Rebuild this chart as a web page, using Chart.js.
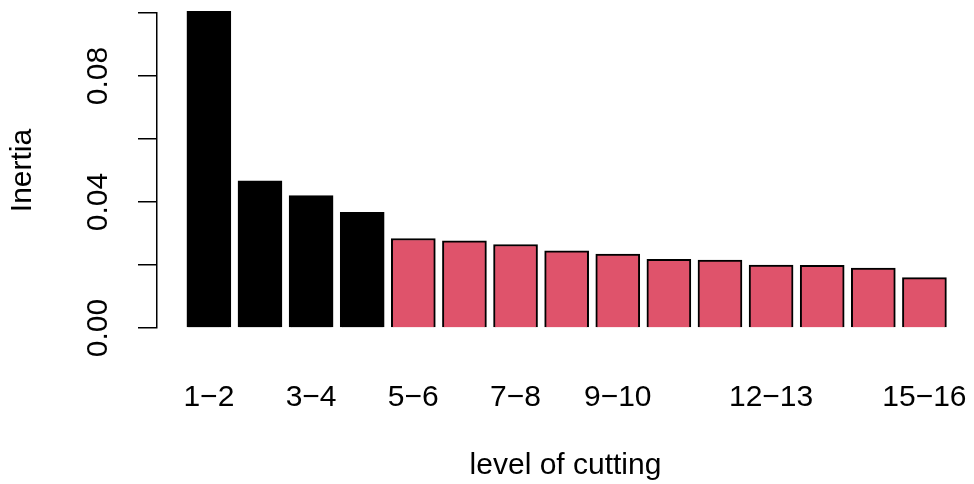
<!DOCTYPE html>
<html>
<head>
<meta charset="utf-8">
<script src="https://cdn.jsdelivr.net/npm/chart.js@4.4.1/dist/chart.umd.min.js"></script>
<style>
  html, body { margin: 0; padding: 0; background: #fff; }
  canvas { display: block; }
</style>
</head>
<body>
<canvas id="ct-chart" width="974" height="484"></canvas>
<script>
var levelLabels = ["1−2", "2−3", "3−4", "4−5", "5−6", "6−7", "7−8", "8−9",
    "9−10", "10−11", "11−12", "12−13", "13−14", "14−15", "15−16"],
  inertiaValues = [0.1005, 0.0467, 0.0420, 0.0367, 0.0284, 0.0277, 0.0265,
    0.0245, 0.0235, 0.0218, 0.0216, 0.0200, 0.0199, 0.0190, 0.0160],
  keptLevels = 4,
  shownTicks = [1, 3, 5, 7, 9, 12, 15],
  yTicks = [0, 0.02, 0.04, 0.06, 0.08, 0.1],
  yTickLabels = ["0.00", "", "0.04", "", "0.08", ""];

var textFont = { family: '"Liberation Sans", Arial, sans-serif', size: 30 };

const ctChart = new Chart(document.getElementById("ct-chart"), {
  type: "bar",
  data: {
    datasets: [
      {
        data: inertiaValues.map((v, i) => ({ x: i + 1, y: v })),
        backgroundColor: inertiaValues.map((_v, i) =>
          i < keptLevels ? "#000000" : "#DF536B"
        ),
        borderColor: "#000000",
        borderWidth: 2,
        barThickness: 44,
        clip: false,
      },
    ],
  },
  options: {
    responsive: false,
    animation: false,
    devicePixelRatio: 1,
    layout: { padding: { top: 13, right: 0, bottom: 0, left: 0 } },
    plugins: {
      legend: { display: false },
      tooltip: { enabled: false },
    },
    scales: {
      x: {
        type: "linear",
        offset: false,
        min: -0.015,
        max: 15.97,
        grid: { display: false, offset: false },
        border: { display: false },
        afterBuildTicks: (scale) => {
          scale.ticks = shownTicks.map((v) => ({ value: v }));
        },
        afterFit: (scale) => {
          scale.height = 156;
          scale.paddingLeft = 0;
          scale.paddingRight = 0;
        },
        ticks: {
          autoSkip: false,
          maxRotation: 0,
          padding: 44,
          color: "#000000",
          font: textFont,
          callback: (value) => levelLabels[value - 1],
        },
        title: {
          display: true,
          text: "level of cutting",
          color: "#000000",
          font: textFont,
          padding: { top: 0, bottom: 0 },
        },
      },
      y: {
        min: 0,
        max: 0.1,
        afterBuildTicks: (scale) => {
          scale.ticks = yTicks.map((v) => ({ value: v }));
        },
        afterFit: (scale) => {
          scale.width = 157;
          scale.paddingTop = 0;
          scale.paddingBottom = 0;
        },
        grid: {
          drawOnChartArea: false,
          drawTicks: true,
          tickLength: 19,
          color: "#000000",
          lineWidth: 1.5,
        },
        border: { display: true, color: "#000000", width: 1.5 },
        ticks: {
          minRotation: 90,
          maxRotation: 90,
          crossAlign: "center",
          padding: 10,
          color: "#000000",
          font: textFont,
          callback: (_value, index) => yTickLabels[index],
        },
        title: {
          display: true,
          text: "Inertia",
          color: "#000000",
          font: textFont,
          padding: { top: 5, bottom: 0 },
        },
      },
    },
  },
});
</script>
</body>
</html>
